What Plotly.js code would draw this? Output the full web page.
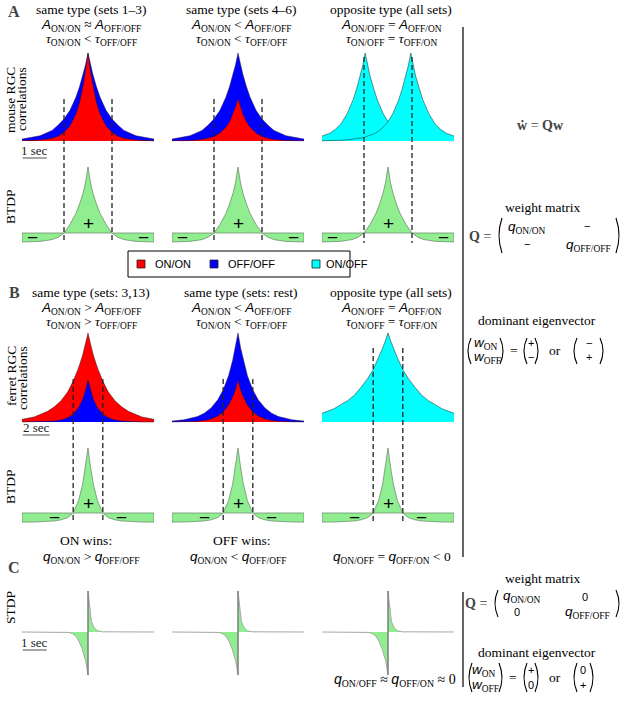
<!DOCTYPE html>
<html><head><meta charset="utf-8">
<script src="https://cdn.plot.ly/plotly-3.0.1.min.js"></script>
<style>html,body{margin:0;padding:0;background:#fff}</style>
</head><body><div id="chart" style="width:624px;height:702px"></div>
<script>
// ================= DATA =================
// Panel A (mouse): one-sided time offsets from the peak (s)
const tA = [0, 0.1, 0.2, 0.35, 0.5, 0.75, 1.0, 1.25, 1.5, 2.0, 2.75, 3.75];
const mouseSets13_OFFOFF = [1, 0.87, 0.76, 0.62, 0.50, 0.35, 0.25, 0.18, 0.12, 0.06, 0.022, 0.006];
const mouseSets13_ONON   = [1, 0.79, 0.63, 0.44, 0.31, 0.17, 0.10, 0.055, 0.03, 0.01, 0.002, 0];
const mouseSets46_OFFOFF = [1, 0.87, 0.76, 0.62, 0.50, 0.35, 0.25, 0.18, 0.12, 0.06, 0.022, 0.006];
const mouseSets46_ONON   = [0.48, 0.39, 0.31, 0.22, 0.16, 0.09, 0.05, 0.03, 0.016, 0.005, 0.001, 0];
const mouseOpp_peak      = [1, 0.86, 0.74, 0.60, 0.47, 0.31, 0.20, 0.13, 0.085, 0.036, 0.01, 0.002];
const mouseOppLags = [-0.95, 0.95];           // peak positions of ON/OFF and OFF/ON (s)
const tBtdpA = [0, 0.1, 0.2, 0.35, 0.5, 0.75, 1.0, 1.25, 1.5, 2.0, 2.75];
const btdpA  = [1, 0.77, 0.61, 0.44, 0.30, 0.13, 0, -0.065, -0.1, -0.127, -0.136];

// Panel B (ferret)
const tB = [0, 0.2, 0.4, 0.7, 1.1, 1.5, 2.0, 2.5, 3.0, 4.0, 4.9];
const ferretSets313_ONON   = [1, 0.87, 0.75, 0.61, 0.46, 0.34, 0.24, 0.17, 0.12, 0.057, 0.03];
const ferretSets313_OFFOFF = [0.47, 0.345, 0.254, 0.16, 0.086, 0.047, 0.022, 0.01, 0.005, 0.001, 0];
const ferretRest_OFFOFF    = [1, 0.83, 0.69, 0.52, 0.36, 0.25, 0.157, 0.099, 0.062, 0.025, 0.011];
const ferretRest_ONON      = [0.47, 0.36, 0.28, 0.19, 0.113, 0.068, 0.035, 0.018, 0.009, 0.0026, 0.001];
const ferretOpp            = [1, 0.91, 0.83, 0.72, 0.59, 0.49, 0.39, 0.30, 0.24, 0.15, 0.097];
const btdpB = [1, 0.69, 0.44, 0.19, 0, -0.07, -0.105, -0.122, -0.131, -0.138, -0.14];

// Panel C (STDP window)
const tC   = [-2.75, -1.0, -0.79, -0.65, -0.51, -0.38, -0.24, -0.1, 0, 0, 0.07, 0.14, 0.25, 0.39, 0.6, 2.75];
const stdp = [0, 0, -0.01, -0.04, -0.1, -0.22, -0.42, -0.7, -1.05, 1, 0.55, 0.26, 0.11, 0.03, 0.004, 0];

const legendLabels = ['ON/ON', 'OFF/OFF', 'ON/OFF'];
const scaleBarsSec = {A: 1, B: 2, C: 1};

// ================= helpers =================
const W = 624, H = 702;
const serif = "'Liberation Serif','DejaVu Serif',serif";
const sans = "'Liberation Sans','DejaVu Sans',sans-serif";
const COL = {on: '#ff0000', off: '#0000ff', opp: '#00ffff', green: '#90ee90'};

function mirror(t, v, shift) {
  const xs = [], ys = [];
  for (let i = t.length - 1; i > 0; i--) { xs.push(shift - t[i]); ys.push(v[i]); }
  for (let i = 0; i < t.length; i++) { xs.push(shift + t[i]); ys.push(v[i]); }
  return {x: xs, y: ys};
}
const zeroOf = (t, v) => t[v.indexOf(0)];

// panel geometry (pixels)
const colCx = [88, 238, 388];
const rows = {
  Acorr: {zero: 141, unit: 88, yr: [-0.03, 1.06], half: 2.75},
  Abtdp: {zero: 233, unit: 66, yr: [-0.2, 1.06], half: 2.75},
  Bcorr: {zero: 422, unit: 89, yr: [-0.03, 1.06], half: 4.9},
  Bbtdp: {zero: 513, unit: 65, yr: [-0.2, 1.06], half: 4.9},
  Cstdp: {zero: 632, unit: 41, yr: [-1.2, 1.15], half: 2.75}
};
const rowOrder = ['Acorr', 'Abtdp', 'Bcorr', 'Bbtdp', 'Cstdp'];
const layout = {
  width: W, height: H, margin: {l: 0, r: 0, t: 0, b: 0},
  paper_bgcolor: '#fff', plot_bgcolor: 'rgba(0,0,0,0)', showlegend: false,
  shapes: [], annotations: []
};
const axId = {};
let n = 0;
rowOrder.forEach(r => {
  const R = rows[r];
  colCx.forEach((cx, c) => {
    n++;
    const s = n === 1 ? '' : String(n);
    axId[r + c] = s;
    layout['xaxis' + s] = {domain: [(cx - 66) / W, (cx + 66) / W], range: [-R.half, R.half],
      visible: false, fixedrange: true, anchor: 'y' + s};
    layout['yaxis' + s] = {domain: [1 - (R.zero - R.yr[0] * R.unit) / H, 1 - (R.zero - R.yr[1] * R.unit) / H],
      range: R.yr, visible: false, fixedrange: true, anchor: 'x' + s};
  });
});
const traces = [];
function area(key, d, color, lineColor, lw) {
  const s = axId[key];
  traces.push({type: 'scatter', mode: 'lines', x: d.x, y: d.y, fill: 'tozeroy', fillcolor: color,
    line: {color: lineColor, width: lw}, xaxis: 'x' + s, yaxis: 'y' + s, hoverinfo: 'skip'});
}
function closedArea(key, d, color, lineColor, lw) {
  const s = axId[key];
  const x = [d.x[0]].concat(d.x, [d.x[d.x.length - 1], d.x[0]]);
  const y = [0].concat(d.y, [0, 0]);
  traces.push({type: 'scatter', mode: 'lines', x, y, fill: 'toself', fillcolor: color,
    line: {color: lineColor, width: lw}, xaxis: 'x' + s, yaxis: 'y' + s, hoverinfo: 'skip'});
}
const outl = 'rgba(30,20,40,0.65)';
// ---- A correlations
area('Acorr0', mirror(tA, mouseSets13_OFFOFF, 0), COL.off, outl, 0.7);
area('Acorr0', mirror(tA, mouseSets13_ONON, 0), COL.on, outl, 0.7);
area('Acorr1', mirror(tA, mouseSets46_OFFOFF, 0), COL.off, outl, 0.7);
area('Acorr1', mirror(tA, mouseSets46_ONON, 0), COL.on, outl, 0.7);
mouseOppLags.forEach(l => area('Acorr2', mirror(tA, mouseOpp_peak, l), COL.opp, 'rgba(20,60,60,0.8)', 0.7));
// ---- B correlations
area('Bcorr0', mirror(tB, ferretSets313_ONON, 0), COL.on, outl, 0.7);
area('Bcorr0', mirror(tB, ferretSets313_OFFOFF, 0), COL.off, outl, 0.7);
area('Bcorr1', mirror(tB, ferretRest_OFFOFF, 0), COL.off, outl, 0.7);
area('Bcorr1', mirror(tB, ferretRest_ONON, 0), COL.on, outl, 0.7);
area('Bcorr2', mirror(tB, ferretOpp, 0), COL.opp, 'rgba(20,60,60,0.8)', 0.7);
// ---- BTDP rows + STDP
[0, 1, 2].forEach(c => {
  closedArea('Abtdp' + c, mirror(tBtdpA, btdpA, 0), COL.green, '#6f8f6f', 0.8);
  closedArea('Bbtdp' + c, mirror(tB, btdpB, 0), COL.green, '#6f8f6f', 0.8);
  const s = axId['Cstdp' + c];
  traces.push({type: 'scatter', mode: 'lines', x: tC, y: stdp, fill: 'tozeroy', fillcolor: COL.green,
    line: {color: '#a8a8a8', width: 1}, xaxis: 'x' + s, yaxis: 'y' + s, hoverinfo: 'skip'});
  const i0 = tC.indexOf(0);
  traces.push({type: 'scatter', mode: 'lines', x: [tC[i0], tC[i0 + 1]], y: [stdp[i0], stdp[i0 + 1]],
    line: {color: '#666', width: 1}, xaxis: 'x' + s, yaxis: 'y' + s, hoverinfo: 'skip'});
});

// ---- dashed lines at BTDP zero crossings
const zA = zeroOf(tBtdpA, btdpA), zB = zeroOf(tB, btdpB);
function dash(key, xv, yTop, yBot) {
  layout.shapes.push({type: 'line', xref: 'x' + axId[key], yref: 'paper', x0: xv, x1: xv,
    y0: 1 - yTop / H, y1: 1 - yBot / H, line: {color: '#222', width: 1.3, dash: '5px,3px'}, layer: 'above'});
}
[0, 1, 2].forEach(c => {
  const topA = c === 2 ? 57 : 99, topB = c === 2 ? 348 : 379;
  [-zA, zA].forEach(v => dash('Acorr' + c, v, topA, 243));
  [-zB, zB].forEach(v => dash('Bcorr' + c, v, topB, 523));
});
// ---- scale bars
function bar(key, len, yPx, label, yText) {
  const R = rows[key.slice(0, 5)];
  const x0 = -R.half + 0.03 * R.half / 2.75;
  layout.shapes.push({type: 'line', xref: 'x' + axId[key], yref: 'paper', x0, x1: x0 + len,
    y0: 1 - yPx / H, y1: 1 - yPx / H, line: {color: '#888', width: 1.5}});
  layout.annotations.push({xref: 'x' + axId[key], yref: 'paper', x: x0 + len / 2, y: 1 - yText / H,
    text: label, showarrow: false, font: {family: serif, size: 13, color: '#222'}, xanchor: 'center', yanchor: 'middle'});
}
bar('Acorr0', scaleBarsSec.A, 158, scaleBarsSec.A + ' sec', 150);
bar('Bcorr0', scaleBarsSec.B, 435, scaleBarsSec.B + ' sec', 427);
bar('Cstdp0', scaleBarsSec.C, 650, scaleBarsSec.C + ' sec', 642);

// ---- +/- signs in BTDP panels
function sign(key, xv, yv, t) {
  layout.annotations.push({xref: 'x' + axId[key], yref: 'y' + axId[key], x: xv, y: yv, text: t, showarrow: false,
    font: {family: sans, size: 19, color: '#000'}, xanchor: 'center', yanchor: 'middle'});
}
[0, 1, 2].forEach(c => {
  sign('Abtdp' + c, 0, 0.15, '+');
  sign('Abtdp' + c, -2.33, -0.07, '\u2212');
  sign('Abtdp' + c, 2.3, -0.07, '\u2212');
  sign('Bbtdp' + c, 0, 0.15, '+');
  sign('Bbtdp' + c, -2.5, -0.07, '\u2212');
  sign('Bbtdp' + c, 2.45, -0.07, '\u2212');
});

// ---- text helpers
function txt(x, y, text, opt) {
  const a = {x: x / W, y: 1 - y / H, xref: 'paper', yref: 'paper', text, showarrow: false,
    xanchor: 'center', yanchor: 'middle', font: {family: serif, size: 13.5, color: '#000'}};
  layout.annotations.push(Object.assign(a, opt || {}));
}
const mi = s => `<span style="font-family:'Liberation Sans';font-style:italic">${s}</span>`;
const A_ = s => mi('A') + `<sub>${s}</sub>`;
const T_ = s => `<i>τ</i><sub>${s}</sub>`;
const Q_ = s => mi('q') + `<sub>${s}</sub>`;
const W_ = s => mi('w') + `<sub>${s}</sub>`;

txt(14, 11, '<b>A</b>', {font: {family: serif, size: 16}});
txt(14, 293, '<b>B</b>', {font: {family: serif, size: 16}});
txt(14, 567, '<b>C</b>', {font: {family: serif, size: 16}});

const titlesA = [
  ['same type (sets 1–3)', `${A_('ON/ON')} ≈ ${A_('OFF/OFF')}`, `${T_('ON/ON')} &lt; ${T_('OFF/OFF')}`],
  ['same type (sets 4–6)', `${A_('ON/ON')} &lt; ${A_('OFF/OFF')}`, `${T_('ON/ON')} &lt; ${T_('OFF/OFF')}`],
  ['opposite type (all sets)', `${A_('ON/OFF')} = ${A_('OFF/ON')}`, `${T_('ON/OFF')} = ${T_('OFF/ON')}`]
];
const titlesB = [
  ['same type (sets: 3,13)', `${A_('ON/ON')} &gt; ${A_('OFF/OFF')}`, `${T_('ON/ON')} &gt; ${T_('OFF/OFF')}`],
  ['same type (sets: rest)', `${A_('ON/ON')} &lt; ${A_('OFF/OFF')}`, `${T_('ON/ON')} &lt; ${T_('OFF/OFF')}`],
  ['opposite type (all sets)', `${A_('ON/OFF')} = ${A_('OFF/ON')}`, `${T_('ON/OFF')} = ${T_('OFF/ON')}`]
];
titlesA.forEach((t, c) => { const x = colCx[c] + 3; txt(x, 10, t[0]); txt(x, 25, t[1]); txt(x, 39, t[2]); });
titlesB.forEach((t, c) => { const x = colCx[c] + 3; txt(x, 293, t[0]); txt(x, 308, t[1]); txt(x, 322, t[2]); });

// y labels
const rot = {textangle: -90};
txt(11, 100, 'mouse RGC', rot); txt(22, 99, 'correlations', rot);
txt(10, 207, 'BTDP', rot);
txt(11, 376, 'ferret RGC', rot); txt(22, 378, 'correlations', rot);
txt(10, 487, 'BTDP', rot);
txt(10, 608, 'STDP', rot);

// B bottom texts
txt(86, 540, 'ON wins:'); txt(91, 557, `${Q_('ON/ON')} &gt; ${Q_('OFF/OFF')}`);
txt(241, 540, 'OFF wins:'); txt(238, 557, `${Q_('ON/ON')} &lt; ${Q_('OFF/OFF')}`);
txt(392, 557, `${Q_('ON/OFF')} = ${Q_('OFF/ON')} &lt; 0`);
txt(458, 680, `${Q_('ON/OFF')} ≈ ${Q_('OFF/ON')} ≈ 0`, {xanchor: 'right', font: {family: serif, size: 14, color: '#000'}});

// legend (manual)
layout.shapes.push({type: 'rect', xref: 'paper', yref: 'paper', x0: 128 / W, x1: 350 / W, y0: 1 - 251 / H, y1: 1 - 277 / H,
  line: {color: '#000', width: 1}, fillcolor: '#fff'});
[[137, COL.on, 153], [210, COL.off, 226], [312, COL.opp, 324]].forEach((it, i) => {
  layout.shapes.push({type: 'rect', xref: 'paper', yref: 'paper', x0: it[0] / W, x1: (it[0] + 8) / W,
    y0: 1 - 260 / H, y1: 1 - 268 / H, fillcolor: it[1], line: {color: '#222', width: 0.8}});
  txt(it[2], 264, legendLabels[i], {xanchor: 'left', font: {family: sans, size: 11, color: '#000'}});
});

// separators
[[27, 557], [592, 687]].forEach(s => layout.shapes.push({type: 'line', xref: 'paper', yref: 'paper',
  x0: 463 / W, x1: 463 / W, y0: 1 - s[0] / H, y1: 1 - s[1] / H, line: {color: '#333', width: 1.5}}));

// parens
function paren(x, y0, y1, left) {
  const w = 3, xa = left ? x + w : x - w, xc = left ? x - w : x + w;
  layout.shapes.push({type: 'path', xref: 'paper', yref: 'paper',
    path: `M ${xa / W},${1 - y0 / H} Q ${xc / W},${1 - (y0 + y1) / 2 / H} ${xa / W},${1 - y1 / H}`,
    line: {color: '#000', width: 1.1}});
}
const sm = {font: {family: sans, size: 11, color: '#000'}};
// right side A/B
txt(540, 125, '<b>ẇ</b> = <b>Qw</b>', {font: {family: serif, size: 14}});
txt(543, 207, 'weight matrix');
txt(480, 236, '<b>Q</b> =', {font: {family: serif, size: 14}});
paren(499, 218, 253, true); paren(619, 218, 253, false);
txt(527, 227, Q_('ON/ON')); txt(587, 226, '\u2212', sm);
txt(527, 244, '\u2212', sm); txt(588, 246, Q_('OFF/OFF'));
txt(537, 320, 'dominant eigenvector');
paren(468, 338, 364, true); paren(503, 338, 364, false);
txt(486, 343, W_('ON')); txt(487, 357, W_('OFF'));
txt(514, 350, '=');
paren(524, 338, 364, true); paren(538, 338, 364, false);
txt(531, 343, '+', sm); txt(531, 357, '\u2212', sm);
txt(555, 350, 'or');
paren(574, 338, 364, true); paren(603, 338, 364, false);
txt(589, 343, '\u2212', sm); txt(589, 357, '+', sm);
// right side C
txt(543, 578, 'weight matrix');
txt(476, 603, '<b>Q</b> =', {font: {family: serif, size: 14}});
paren(495, 590, 617, true); paren(619, 590, 617, false);
txt(522, 596, Q_('ON/ON')); txt(585, 597, '0', sm);
txt(517, 612, '0', sm); txt(587, 612, Q_('OFF/OFF'));
txt(537, 652, 'dominant eigenvector');
paren(469, 663, 692, true); paren(502, 663, 692, false);
txt(484, 670, W_('ON')); txt(485, 685, W_('OFF'));
txt(513, 677, '=');
paren(524, 663, 692, true); paren(538, 663, 692, false);
txt(531, 670, '+', sm); txt(531, 685, '0', sm);
txt(555, 677, 'or');
paren(574, 663, 692, true); paren(593, 663, 692, false);
txt(583, 670, '0', sm); txt(583, 685, '+', sm);

Plotly.newPlot('chart', traces, layout, {staticPlot: true, displayModeBar: false});
</script></body></html>
